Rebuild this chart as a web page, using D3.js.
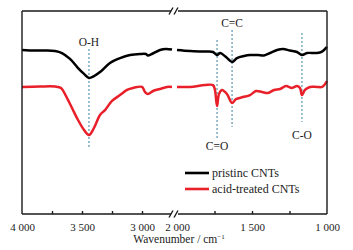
<!DOCTYPE html>
<html>
<head>
<meta charset="utf-8">
<script src="https://cdn.jsdelivr.net/npm/d3@7"></script>
<style>
  body { margin: 0; background: #fff; }
  svg text { font-family: "Liberation Serif", "Times New Roman", serif; font-size: 11px; fill: #222; }
</style>
</head>
<body>
<div id="chart"></div>
<script>
// wavenumber (cm-1) / transmittance (a.u.)
const pristineLeft = [
    [4000, 80.8], [3892, 80.5], [3808, 80.5], [3725, 80.3], [3667, 79.3], [3600, 76.4],
    [3533, 71.9], [3483, 69.0], [3442, 67.0], [3400, 67.9], [3350, 69.9], [3267, 74.4],
    [3183, 76.8], [3100, 78.3], [3017, 78.8], [2967, 78.8], [2950, 78.1], [2925, 78.6],
    [2850, 80.8], [2800, 81.3], [2750, 81.0]
];
const pristineRight = [
    [2000, 80.8], [1913, 80.3], [1813, 80.0], [1760, 79.8], [1733, 78.3], [1713, 79.3],
    [1673, 77.3], [1633, 74.9], [1600, 76.8], [1553, 77.8], [1513, 78.3], [1460, 78.3],
    [1420, 78.1], [1380, 79.3], [1333, 80.8], [1293, 81.3], [1247, 80.5], [1200, 79.8],
    [1167, 78.3], [1133, 79.3], [1067, 79.3], [1033, 80.0], [1000, 82.3]
];
const acidLeft = [
    [4000, 62.6], [3850, 62.8], [3725, 62.8], [3675, 62.1], [3633, 58.1], [3583, 52.2],
    [3533, 46.3], [3483, 41.4], [3442, 38.9], [3400, 42.4], [3350, 48.8], [3308, 51.2],
    [3250, 55.7], [3183, 58.6], [3125, 61.1], [3075, 62.1], [3000, 62.6], [2975, 60.1],
    [2950, 59.1], [2908, 60.6], [2850, 61.6], [2792, 62.6], [2750, 62.6]
];
const acidRight = [
    [2000, 62.6], [1913, 62.6], [1813, 63.5], [1760, 63.5], [1747, 61.1], [1733, 53.2],
    [1720, 59.1], [1700, 61.1], [1667, 59.1], [1633, 54.7], [1607, 56.6], [1560, 57.6],
    [1513, 58.6], [1473, 60.6], [1433, 60.1], [1393, 59.6], [1353, 61.1], [1313, 61.6],
    [1273, 63.0], [1233, 62.1], [1200, 63.0], [1180, 62.1], [1167, 58.6], [1147, 61.1],
    [1113, 62.6], [1067, 62.6], [1033, 62.6], [1000, 65.5]
];

const peakNames = ['O-H', 'C=O', 'C=C', 'C-O'];
const peakWaves = [3442, 1733, 1633, 1167];
const leftLabels = [4000, 3500, 3000];
const leftMinor = [3750, 3500, 3250, 3000];
const rightLabels = [2000, 1500, 1000];
const rightMinor = [1750, 1500, 1250];
const seriesNames = ['pristinc CNTs', 'acid-treated CNTs'];
const seriesColors = ['#000000', '#e8202a'];

const width = 353, height = 250;
const plotLeft = 22, plotRight = 327, plotTop = 11, plotBottom = 214;
const breakL = 172, breakR = 177;

const fmt = d3.formatLocale({ decimal: '.', thousands: ' ', grouping: [3], currency: ['', ''] }).format(',d');

const svg = d3.select('#chart').append('svg')
    .attr('width', width)
    .attr('height', height);

const xLeft = d3.scaleLinear().domain([4000, 2750]).range([plotLeft, breakL]);
const xRight = d3.scaleLinear().domain([2000, 1000]).range([breakR, plotRight]);
const y = d3.scaleLinear().domain([0, 100]).range([plotBottom, plotTop]);

function xOf(w) {
    return w >= 2750 ? xLeft(w) : xRight(w);
}

// peak guide lines (dotted)
const peakLayout = [
    { top: 49, bottom: 148, labelY: 46 },
    { top: 40, bottom: 140, labelY: 150 },
    { top: 30, bottom: 127, labelY: 27 },
    { top: 33, bottom: 122, labelY: 139 }
];
peakNames.forEach((name, i) => {
    const px = xOf(peakWaves[i]);
    const lay = peakLayout[i];
    svg.append('line')
        .attr('x1', px).attr('x2', px)
        .attr('y1', lay.top).attr('y2', lay.bottom)
        .attr('stroke', '#3b7f9e')
        .attr('stroke-width', 1)
        .attr('stroke-dasharray', '2,2');
    svg.append('text')
        .attr('x', px)
        .attr('y', lay.labelY)
        .attr('text-anchor', 'middle')
        .style('font-size', '11.5px')
        .text(name);
});

// spectra
const line = d3.line()
    .x(d => xOf(d[0]))
    .y(d => y(d[1]))
    .curve(d3.curveCatmullRom.alpha(0.5));

[[pristineLeft, pristineRight], [acidLeft, acidRight]].forEach((segs, i) => {
    segs.forEach(seg => {
        svg.append('path')
            .attr('d', line(seg))
            .attr('fill', 'none')
            .attr('stroke', seriesColors[i])
            .attr('stroke-width', 2.5)
            .attr('stroke-linejoin', 'round');
    });
});

// frame
const frameColor = '#1a1a1a';
const frame = svg.append('g')
    .attr('stroke', frameColor)
    .attr('stroke-width', 1.4)
    .attr('fill', 'none');
frame.append('line').attr('x1', plotLeft).attr('x2', plotLeft).attr('y1', plotTop).attr('y2', plotBottom);
frame.append('line').attr('x1', plotRight).attr('x2', plotRight).attr('y1', plotTop).attr('y2', plotBottom);
[plotTop, plotBottom].forEach(yy => {
    frame.append('line').attr('x1', plotLeft).attr('x2', breakL - 1).attr('y1', yy).attr('y2', yy);
    frame.append('line').attr('x1', breakR + 1).attr('x2', plotRight).attr('y1', yy).attr('y2', yy);
    [breakL - 1, breakR - 1].forEach(bx => {
        frame.append('line')
            .attr('x1', bx - 2).attr('y1', yy + 3.5)
            .attr('x2', bx + 2).attr('y2', yy - 3.5);
    });
});

// ticks (inward) and labels
function addAxis(scale, minor, labels) {
    svg.append('g')
        .attr('transform', `translate(0,${ plotBottom })`)
        .call(d3.axisBottom(scale).tickValues(minor).tickSizeInner(-3).tickSizeOuter(0).tickFormat(''))
        .call(g => g.select('.domain').remove())
        .call(g => g.selectAll('line').attr('stroke', frameColor).attr('stroke-width', 1.4));
    svg.append('g')
        .attr('transform', `translate(0,${ plotBottom })`)
        .call(d3.axisBottom(scale).tickValues(labels).tickSize(0).tickPadding(9).tickFormat(fmt))
        .call(g => g.select('.domain').remove())
        .call(g => g.selectAll('text')
            .attr('fill', '#222')
            .style('font-family', '"Liberation Serif", "Times New Roman", serif')
            .style('font-size', '11px'));
}
addAxis(xLeft, leftMinor, leftLabels);
addAxis(xRight, rightMinor, rightLabels);

const title = svg.append('text')
    .attr('x', 179)
    .attr('y', 243)
    .attr('text-anchor', 'middle')
    .style('font-size', '11.5px');
title.append('tspan').text('Wavenumber / cm');
title.append('tspan').attr('dy', -4).style('font-size', '7px').text('\u22121');

// legend
seriesNames.forEach((name, i) => {
    const ly = 173 + i * 16;
    svg.append('line')
        .attr('x1', 185).attr('x2', 209)
        .attr('y1', ly).attr('y2', ly)
        .attr('stroke', seriesColors[i])
        .attr('stroke-width', 2.6);
    svg.append('text')
        .attr('x', 212)
        .attr('y', ly + 4)
        .style('font-size', '12px')
        .text(name);
});
</script>
</body>
</html>
